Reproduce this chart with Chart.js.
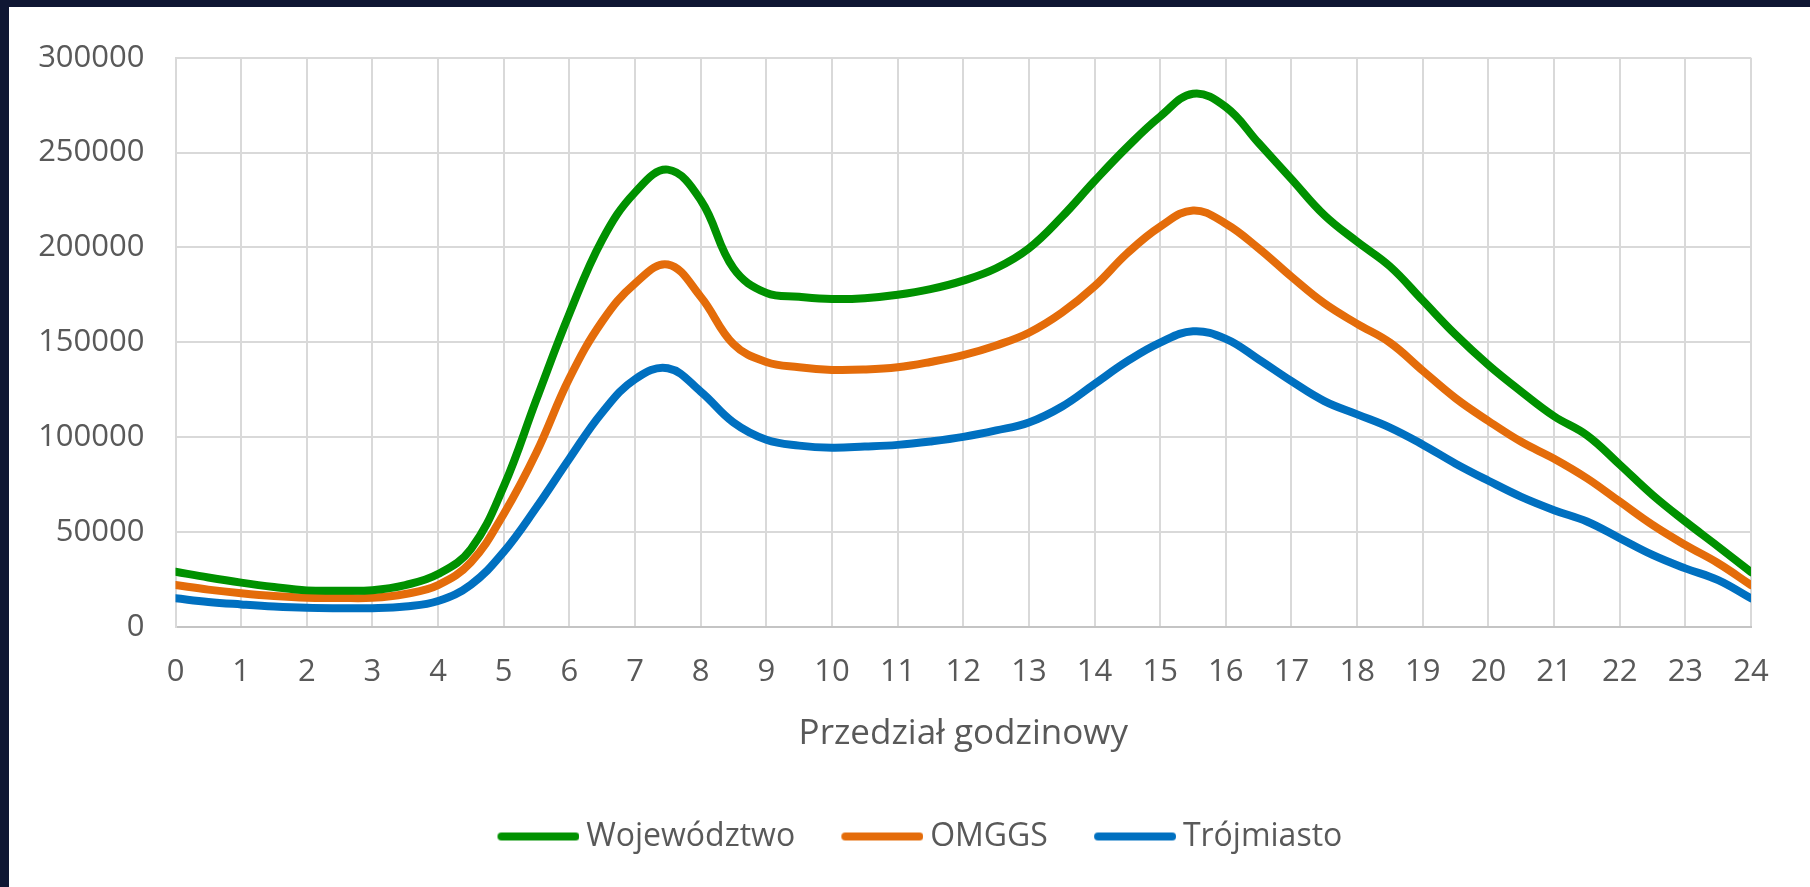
<!DOCTYPE html>
<html>
<head>
<meta charset="utf-8">
<script src="https://cdn.jsdelivr.net/npm/chart.js@4"></script>
<style>
    body { margin: 0; background: #0f1733; }
    #box { position: absolute; left: 9px; top: 7px; width: 1801px; height: 880px; background: #ffffff; }
</style>
</head>
<body>
<div id="box"><canvas id="wykres" width="1801" height="880"></canvas></div>
<script>
const hours = [0, 0.5, 1, 1.5, 2, 2.5, 3, 3.5, 4, 4.5, 5, 5.5, 6, 6.5, 7, 7.5, 8, 8.5, 9, 9.5, 10, 10.5, 11, 11.5,
    12, 12.5, 13, 13.5, 14, 14.5, 15, 15.5, 16, 16.5, 17, 17.5, 18, 18.5, 19, 19.5, 20, 20.5, 21, 21.5, 22, 22.5, 23, 23.5, 24]
const wojewodztwo = [29000, 26000, 23300, 21000, 19200, 19000, 19300, 22000, 27800, 41000, 74000, 120000,
    165000, 204000, 229000, 241000, 225000, 189000, 176000, 174000, 172800, 173200, 175000, 178000,
    182500, 189000, 199500, 216000, 235000, 253000, 269000, 281000, 274000, 255000, 236000, 217000,
    203000, 190000, 172000, 154000, 138000, 124000, 111000, 101000, 85500, 69500, 55500, 42300, 28800]
const omggs = [22000, 19600, 17700, 16200, 15300, 15200, 15300, 17300, 22000, 34000, 59500, 92000,
    131000, 161000, 181000, 191000, 174000, 149000, 139600, 136800, 135400, 135600, 136800, 139600,
    143200, 148300, 155000, 165500, 179500, 197000, 211000, 219500, 212500, 199500, 184500, 170500,
    159700, 149800, 135000, 120500, 108500, 97500, 88600, 78300, 66000, 53700, 43100, 33500, 22000]
const trojmiasto = [15000, 13100, 11800, 10700, 10000, 9800, 9800, 10700, 13600, 22200, 39500, 63000,
    88600, 113000, 130500, 136300, 124000, 107700, 98600, 95500, 94400, 95000, 95900, 97700,
    100100, 103500, 107700, 116000, 128000, 140000, 149800, 155800, 151800, 141000, 129500, 119000,
    112000, 105000, 96000, 86000, 77000, 68500, 61500, 55500, 46700, 37900, 30800, 24600, 15000]
const seriesNames = ["Województwo", "OMGGS", "Trójmiasto"]
const seriesColors = ["#009100", "#e46c0a", "#0070c0"]
const yTicks = [0, 50000, 100000, 150000, 200000, 250000, 300000]
const xTitle = "Przedział godzinowy"

const FONT = "'Open Sans', 'Noto Sans', sans-serif"
const TXT = "#595959"

function points(values) {
    let res = []
    for (let i = 0; i < hours.length; i++) {
        res.push({ x: hours[i], y: values[i] })
    }
    return res
}

// kreska do legendy (obrazek), przesunięta w lewo, żeby tekst był bliżej linii
function legendLine(color) {
    var c = document.createElement('canvas')
    c.width = 91
    c.height = 12
    var g = c.getContext('2d')
    g.strokeStyle = color
    g.lineWidth = 8
    g.lineCap = 'round'
    g.beginPath()
    g.moveTo(13, 6)
    g.lineTo(87, 6)
    g.stroke()
    return c
}

let allValues = [wojewodztwo, omggs, trojmiasto]
let datasets = []
for (let i = 0; i < allValues.length; i++) {
    datasets.push({
        label: seriesNames[i],
        data: points(allValues[i]),
        borderColor: seriesColors[i],
        backgroundColor: seriesColors[i],
        borderWidth: 8,
        borderCapStyle: 'round',
        pointRadius: 0,
        pointStyle: legendLine(seriesColors[i]),
        tension: 0.4,
        fill: false
    })
}

// legenda - wysokość na sztywno i lekkie przesunięcie w prawo
const legendFix = {
    id: 'legendFix',
    beforeLayout(chart) {
        if (chart.legend && !chart.legend._fixed) {
            const fit = chart.legend.fit
            chart.legend.fit = function () {
                fit.call(this)
                this.height = 113
                this.lineWidths[0] -= 80
            }
            chart.legend._fixed = true
        }
    }
}

var ctx = document.getElementById('wykres').getContext('2d')
var myChart = new Chart(ctx, {
    type: 'line',
    data: { datasets: datasets },
    plugins: [legendFix],
    options: {
        responsive: false,
        animation: false,
        layout: { padding: { left: 0, right: 59, top: 50.7, bottom: 0 } },
        scales: {
            x: {
                type: 'linear',
                min: 0,
                max: 24,
                ticks: { stepSize: 1, padding: 26.5, color: TXT, font: { family: FONT, size: 31 }, callback: v => String(v) },
                grid: { color: '#d9d9d9', lineWidth: 2, drawTicks: false },
                border: { color: '#c4c4c4', width: 2 },
                title: { display: true, text: xTitle, color: TXT, font: { family: FONT, size: 35 }, padding: { top: 0, bottom: 19 } },
                afterFit: s => { s.height = 147.2 }
            },
            y: {
                min: 0,
                max: 300000,
                afterBuildTicks: s => { s.ticks = yTicks.map(v => ({ value: v })) },
                ticks: { padding: 31, color: TXT, font: { family: FONT, size: 31 }, callback: v => String(v) },
                grid: { color: '#d9d9d9', lineWidth: 2, drawTicks: false },
                border: { color: '#d9d9d9', width: 2 },
                afterFit: s => { s.width = 166.5 }
            }
        },
        plugins: {
            tooltip: { enabled: false },
            legend: {
                display: true,
                position: 'bottom',
                labels: {
                    usePointStyle: true,
                    pointStyleWidth: 72.5,
                    padding: 46.5,
                    color: TXT,
                    font: { family: FONT, size: 32 }
                }
            }
        }
    }
})
</script>
</body>
</html>
